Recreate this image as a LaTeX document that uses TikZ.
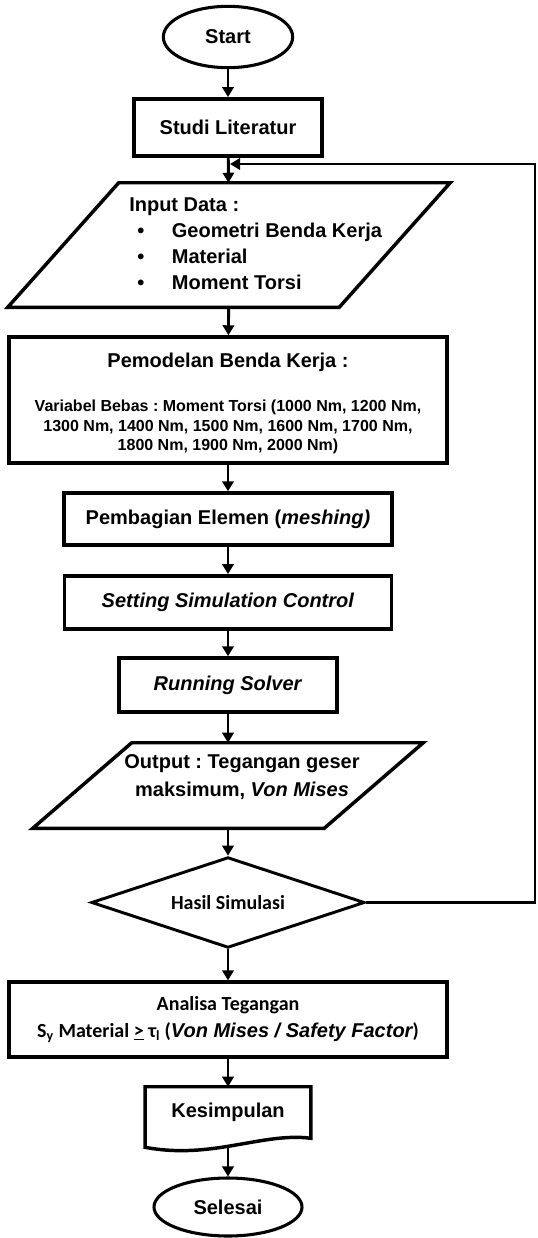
\documentclass[tikz,border=0pt]{standalone}
\usepackage{fontspec}
\setmainfont{Liberation Sans}
\newfontfamily\calibrifont{Carlito}
\usetikzlibrary{arrows.meta,shapes.geometric}
\frenchspacing

\begin{document}
\begin{tikzpicture}[x=0.75pt,y=-0.75pt,
    every node/.style={inner sep=0pt, font=\fontsize{15}{18}\selectfont\bfseries},
    terminal/.style={shape=ellipse, draw=black, line width=2.3pt},
    process/.style={shape=rectangle, draw=black, line width=2.6pt},
    outline/.style={line width=2.6pt, line join=miter},
    decision/.style={shape=diamond, aspect=3, draw=black, line width=2.2pt},
    flow/.style={line width=2.2pt, -{Triangle[length=7.5pt,width=8.5pt]}}]
    \useasboundingbox (0,0) rectangle (538,1238);

    \node[terminal, minimum width=97pt, minimum height=46pt] (start) at (228,37) {Start};
    \node[process, minimum width=141pt, minimum height=43pt] (studi) at (228,127.5) {Studi Literatur};
    % input data (parallelogram)
    \node[minimum width=331.5pt, minimum height=93pt] (input) at (229,245) {};
    \draw[outline] (input.south west) -- ([xshift=83.25pt]input.north west) -- (input.north east)
        -- ([xshift=-83.25pt]input.south east) -- cycle;
    \node[anchor=west, align=left, font=\fontsize{15}{19.5}\selectfont\bfseries] (inputtxt) at (129,244) {Input Data :\\
        \makebox[32pt][l]{\hspace{6pt}\textbullet}Geometri Benda Kerja\\
        \makebox[32pt][l]{\hspace{6pt}\textbullet}Material\\
        \makebox[32pt][l]{\hspace{6pt}\textbullet}Moment Torsi};
    \node[process, minimum width=328.5pt, minimum height=94.5pt] (pemodelan) at (228,400) {};
    \node (pemjudul) at (228,362) {Pemodelan Benda Kerja :};
    \node[align=center, font=\fontsize{12}{14.6}\selectfont\bfseries] (pemvariabel) at (228,427) {Variabel Bebas : Moment Torsi (1000 Nm, 1200 Nm,\\
        1300 Nm, 1400 Nm, 1500 Nm, 1600 Nm, 1700 Nm,\\
        1800 Nm, 1900 Nm, 2000 Nm)};
    \node[process, minimum width=246pt, minimum height=39pt] (meshing) at (228,519) {Pembagian Elemen (\textit{meshing)}};
    \node[process, minimum width=245pt, minimum height=40pt] (setting) at (228,602.5) {\textit{Setting Simulation Control}};
    \node[process, minimum width=163.5pt, minimum height=40.5pt] (solver) at (228,685) {\textit{Running Solver}};
    % output (parallelogram)
    \node[minimum width=292.5pt, minimum height=63.75pt] (output) at (228,785.5) {};
    \draw[outline] (output.south west) -- ([xshift=74.25pt]output.north west) -- (output.north east)
        -- ([xshift=-74.25pt]output.south east) -- cycle;
    \node[align=center, font=\fontsize{15}{21}\selectfont\bfseries] (outputtxt) at (242,777) {Output : Tegangan geser\\
        maksimum, \textit{Von Mises}};
    \node[decision, minimum width=205pt, minimum height=68pt, font=\calibrifont\fontsize{15}{18}\selectfont\bfseries] (hasil) at (228,902.5) {Hasil Simulasi};
    \node[process, minimum width=328.5pt, minimum height=56pt, align=center, font=\calibrifont\fontsize{15}{20}\selectfont\bfseries] (analisa) at (228,1019.5) {Analisa Tegangan\\
        S\textsubscript{y} Material \underline{>} τ\textsubscript{l} ({\rmfamily\itshape Von Mises / Safety Factor})};
    % kesimpulan (document)
    \node[minimum width=124pt, minimum height=45pt] (kesimpulan) at (228,1117) {};
    \node (kestxt) at (228,1112) {Kesimpulan};
    \draw[outline] (kesimpulan.south west) -- (kesimpulan.north west) -- (kesimpulan.north east)
        -- ([yshift=6.75pt]kesimpulan.south east) .. controls (262,1132) and (212,1160) .. (kesimpulan.south west) -- cycle;
    \node[terminal, minimum width=111pt, minimum height=43.5pt] (selesai) at (228,1207) {Selesai};

    \coordinate (balik) at (230,164);
    \coordinate (kanan) at (535,164);

    \path[flow] (start) edge (studi)
        (studi) edge (input)
        (input) edge (pemodelan)
        (pemodelan) edge (meshing)
        (meshing) edge (setting)
        (setting) edge (solver)
        (solver) edge (output)
        (output) edge (hasil)
        (hasil) edge (analisa)
        (analisa) edge (kesimpulan)
        (kesimpulan) edge (selesai);
    \draw[flow] (hasil.east) -| (kanan) -- (balik);

\end{tikzpicture}
\end{document}
